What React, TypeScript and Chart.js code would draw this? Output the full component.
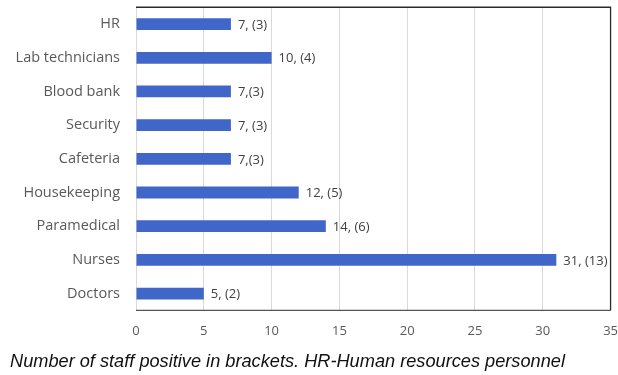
import React, { useEffect, useRef } from "react";
import { Chart, registerables } from "chart.js";

Chart.register(...registerables);

const categories = [
  "HR",
  "Lab technicians",
  "Blood bank",
  "Security",
  "Cafeteria",
  "Housekeeping",
  "Paramedical",
  "Nurses",
  "Doctors",
];
const staffTested = [7, 10, 7, 7, 7, 12, 14, 31, 5];
const barLabels = ["7, (3)", "10, (4)", "7,(3)", "7, (3)", "7,(3)", "12, (5)", "14, (6)", "31, (13)", "5, (2)"];
const xTicks = [0, 5, 10, 15, 20, 25, 30, 35];
const caption = "Number of staff positive in brackets. HR-Human resources personnel";

const BAR_COLOR = "#4066C9";

const valueLabelPlugin = {
  id: "valueLabels",
  afterDatasetsDraw(chart: any) {
    const ctx = chart.ctx;
    const meta = chart.getDatasetMeta(0);
    ctx.save();
    ctx.font = "13px 'Open Sans'";
    ctx.fillStyle = "#404040";
    ctx.textAlign = "left";
    ctx.textBaseline = "middle";
    meta.data.forEach((bar: any, i: number) => {
      ctx.fillText(barLabels[i], bar.x + 7, bar.y + 1);
    });
    ctx.restore();
  },
};

const framePlugin = {
  id: "frame",
  afterDraw(chart: any) {
    const { ctx, chartArea } = chart;
    const { left, right, top, bottom } = chartArea;
    ctx.save();
    ctx.strokeStyle = "#2b2b2b";
    ctx.lineWidth = 1.3;
    ctx.beginPath();
    ctx.moveTo(left, top);
    ctx.lineTo(right, top);
    ctx.lineTo(right, bottom);
    ctx.stroke();
    ctx.strokeStyle = "#555555";
    ctx.beginPath();
    ctx.moveTo(left, bottom);
    ctx.lineTo(right, bottom);
    ctx.stroke();
    ctx.restore();
  },
};

export default function App() {
  const ref = useRef<HTMLCanvasElement>(null);

  useEffect(() => {
    if (!ref.current) return;
    const chart = new Chart(ref.current, {
      type: "bar",
      data: {
        labels: categories,
        datasets: [
          {
            data: staffTested,
            backgroundColor: BAR_COLOR,
            borderWidth: 0,
            categoryPercentage: 1,
            barPercentage: 0.35,
          },
        ],
      },
      options: {
        indexAxis: "y",
        responsive: false,
        animation: false,
        layout: { padding: { left: 0, right: 0, top: 7, bottom: 36 } },
        plugins: {
          legend: { display: false },
          tooltip: { enabled: false },
          title: { display: false },
        },
        scales: {
          x: {
            min: 0,
            max: 35,
            afterBuildTicks: (scale: any) => {
              scale.ticks = xTicks.map((v) => ({ value: v }));
            },
            grid: { color: "#d9d9d9", drawTicks: true, tickLength: 13, tickColor: "rgba(0,0,0,0)" },
            border: { display: false },
            ticks: {
              padding: 0,
              color: "#595959",
              font: { family: "'Open Sans'", size: 13 },
            },
          },
          y: {
            grid: {
              display: true,
              color: "rgba(0,0,0,0)",
              drawTicks: true,
              tickLength: 16,
              tickColor: "rgba(0,0,0,0)",
            },
            border: { display: true, color: "#d9d9d9" },
            afterFit: (scale: any) => {
              scale.width = 136;
            },
            ticks: {
              padding: 0,
              color: "#595959",
              font: { family: "'Open Sans'", size: 14.5, lineHeight: 1 },
            },
          },
        },
      },
      plugins: [valueLabelPlugin, framePlugin],
    });
    return () => chart.destroy();
  }, []);

  return (
    <div style={{ position: "absolute", left: 0, top: 0, width: 618, height: 375, background: "#fff" }}>
      <canvas ref={ref} width={618} height={375} style={{ width: 618, height: 375, display: "block" }} />
      <div
        style={{
          position: "absolute",
          left: 10,
          top: 350,
          fontFamily: "'Liberation Sans', Arial, sans-serif",
          fontStyle: "italic",
          fontSize: 18.2,
          color: "#111",
          whiteSpace: "nowrap",
          lineHeight: "22px",
        }}
      >
        {caption}
      </div>
    </div>
  );
}
